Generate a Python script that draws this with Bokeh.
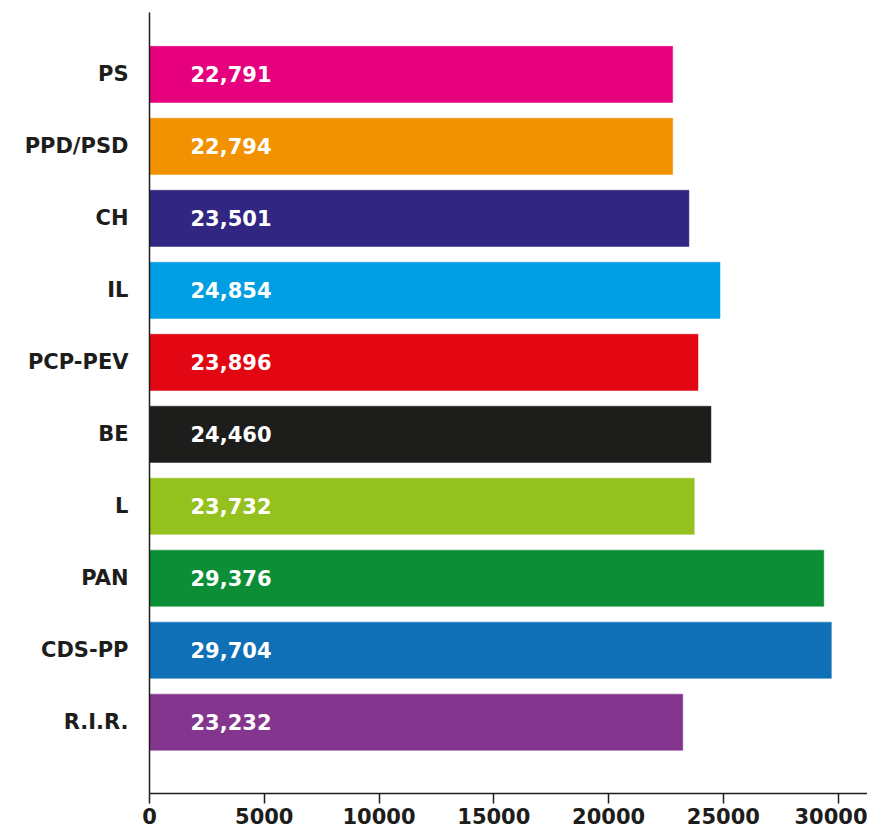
from bokeh.plotting import figure
from bokeh.models import ColumnDataSource, Range1d, FixedTicker
from bokeh.core.properties import value
from bokeh.embed import file_html
from bokeh.resources import INLINE

parties = ["PS", "PPD/PSD", "CH", "IL", "PCP-PEV", "BE", "L", "PAN", "CDS-PP", "R.I.R."]
values = [22791, 22794, 23501, 24854, 23896, 24460, 23732, 29376, 29704, 23232]
colors = ["#E6007E", "#F39200", "#312783", "#009FE3", "#E30613",
          "#1D1D1B", "#95C11F", "#0B8E36", "#0F6FB7", "#84368E"]
x_ticks = [0, 5000, 10000, 15000, 20000, 25000, 30000]

idx = list(range(len(parties)))
labels = [f"{v:,}" for v in values]
src = ColumnDataSource(dict(y=idx, v=values, c=colors, lab=labels, zero=[0] * len(values)))

FONT = "DejaVu Sans"
INK = "#1D1D1B"

p = figure(width=867, height=830, output_backend="svg", toolbar_location=None,
           x_range=Range1d(0, 31280), y_range=Range1d(9.99, -0.86),
           min_border_left=149, min_border_top=12, min_border_right=0, min_border_bottom=37)
p.outline_line_color = None
p.grid.visible = False

p.hbar(y="y", right="v", left=0, height=0.78, fill_color="c", line_color="c", line_width=0.5, source=src)
p.text(x="zero", y="y", text="lab", x_offset=41, text_color="white",
       text_font=value(FONT), text_font_style="bold", text_font_size="21px",
       text_baseline="middle", text_align="left", source=src)

xa = p.xaxis[0]
xa.ticker = FixedTicker(ticks=x_ticks)
xa.minor_tick_line_color = None
xa.major_tick_out = 10
xa.major_tick_in = 0
xa.major_tick_line_color = INK
xa.major_tick_line_width = 1.5
xa.axis_line_color = INK
xa.axis_line_width = 1.5
xa.major_label_standoff = 4
xa.major_label_text_font = FONT
xa.major_label_text_font_style = "bold"
xa.major_label_text_font_size = "21px"
xa.major_label_text_color = INK

ya = p.yaxis[0]
ya.ticker = FixedTicker(ticks=idx)
ya.major_label_overrides = {i: n for i, n in zip(idx, parties)}
ya.minor_tick_line_color = None
ya.major_tick_line_color = None
ya.major_tick_out = 0
ya.major_tick_in = 0
ya.axis_line_color = INK
ya.axis_line_width = 1.5
ya.major_label_standoff = 21
ya.major_label_text_font = FONT
ya.major_label_text_font_style = "bold"
ya.major_label_text_font_size = "21px"
ya.major_label_text_color = INK

open("out.html", "w").write(file_html(p, INLINE))
